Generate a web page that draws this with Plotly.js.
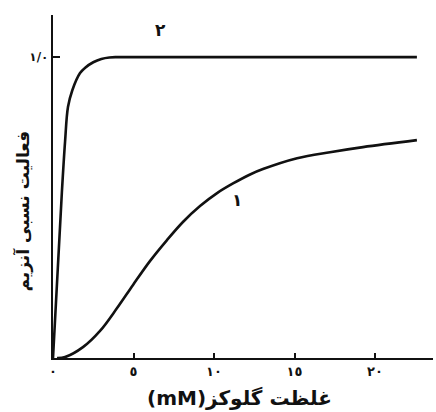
<!DOCTYPE html>
<html>
<head>
<meta charset="utf-8">
<script src="https://cdn.plot.ly/plotly-3.0.1.min.js"></script>
<style>html,body{margin:0;padding:0;background:#fff;}#chart{width:436px;height:412px;}</style>
</head>
<body>
<div id="chart"></div>
<script>
// Curve 2 (low Km enzyme)
const glucose2 = [0, 0.3, 0.55, 0.75, 0.93, 1.2, 1.68, 2.0, 2.5, 3.0, 3.5, 4.0, 5, 10, 15, 20, 22.6];
const activity2 = [0, 0.3, 0.55, 0.72, 0.834, 0.89, 0.947, 0.965, 0.983, 0.994, 0.999, 1.0, 1.0, 1.0, 1.0, 1.0, 1.0];
// Curve 1 (sigmoidal)
const glucose1 = [0.25, 0.75, 1.86, 2.92, 3.98, 4.97, 6.02, 7.08, 8.07, 9.13, 10.19, 11.18, 12.24, 13.04, 15.16, 17.2, 19.25, 22.6];
const activity1 = [0, 0.003, 0.036, 0.09, 0.166, 0.243, 0.322, 0.392, 0.452, 0.505, 0.548, 0.580, 0.610, 0.628, 0.664, 0.684, 0.701, 0.724];
// Ticks and texts
const xTickVals = [0, 5, 10, 15, 20];
const xTickText = ['٠', '٥', '١٠', '١٥', '٢٠'];
const yTickVals = [1.0];
const yTickText = ['١/٠'];
const curveLabels = ['٢', '١'];
const xTitle = '(mM)غلظت گلوکز';
const yTitle = 'فعالیت نسبی آنزیم';

const FONT = 'DejaVu Sans, Noto Sans Arabic, sans-serif';
const lineStyle = {color: '#111', width: 2.6, shape: 'spline', smoothing: 1};

const data = [
  {x: glucose2, y: activity2, mode: 'lines', line: lineStyle, hoverinfo: 'skip'},
  {x: glucose1, y: activity1, mode: 'lines', line: lineStyle, hoverinfo: 'skip'}
];

const layout = {
  width: 436, height: 412,
  margin: {l: 53, r: 3, t: 15, b: 54},
  paper_bgcolor: '#fff', plot_bgcolor: '#fff',
  showlegend: false,
  font: {family: FONT, color: '#111'},
  xaxis: {
    range: [0, 23.6], showgrid: false, zeroline: false,
    showline: true, linecolor: '#111', linewidth: 2.2,
    tickmode: 'array', tickvals: xTickVals, ticktext: xTickText.map(t => '<b>' + t + '</b>'),
    ticks: 'inside', ticklen: 5, tickwidth: 2, tickcolor: '#111',
    tickfont: {size: 13, family: FONT, color: '#111'}
  },
  yaxis: {
    range: [0, 1.14], showgrid: false, zeroline: false,
    showline: true, linecolor: '#111', linewidth: 2.2,
    tickmode: 'array', tickvals: yTickVals, ticktext: yTickText.map(t => '<b>' + t + '</b>'),
    ticks: 'inside', ticklen: 7, tickwidth: 2, tickcolor: '#111',
    tickfont: {size: 12, family: FONT, color: '#111'}
  },
  annotations: [
    {x: 6.65, y: 1.09, text: '<b>' + curveLabels[0] + '</b>', showarrow: false, font: {size: 17, family: FONT, color: '#111'}},
    {x: 11.4, y: 0.525, text: '<b>' + curveLabels[1] + '</b>', showarrow: false, font: {size: 17, family: FONT, color: '#111'}},
    {xref: 'paper', yref: 'paper', x: 0.492, y: -0.117, xanchor: 'center', yanchor: 'middle',
     text: '<b>' + xTitle + '</b>', showarrow: false, font: {size: 20, family: FONT, color: '#111'}},
    {xref: 'paper', yref: 'paper', x: -0.079, y: 0.43, xanchor: 'center', yanchor: 'middle', textangle: -90,
     text: '<b>' + yTitle + '</b>', showarrow: false, font: {size: 17, family: FONT, color: '#111'}}
  ]
};

Plotly.newPlot('chart', data, layout, {displayModeBar: false, staticPlot: true});
</script>
</body>
</html>
